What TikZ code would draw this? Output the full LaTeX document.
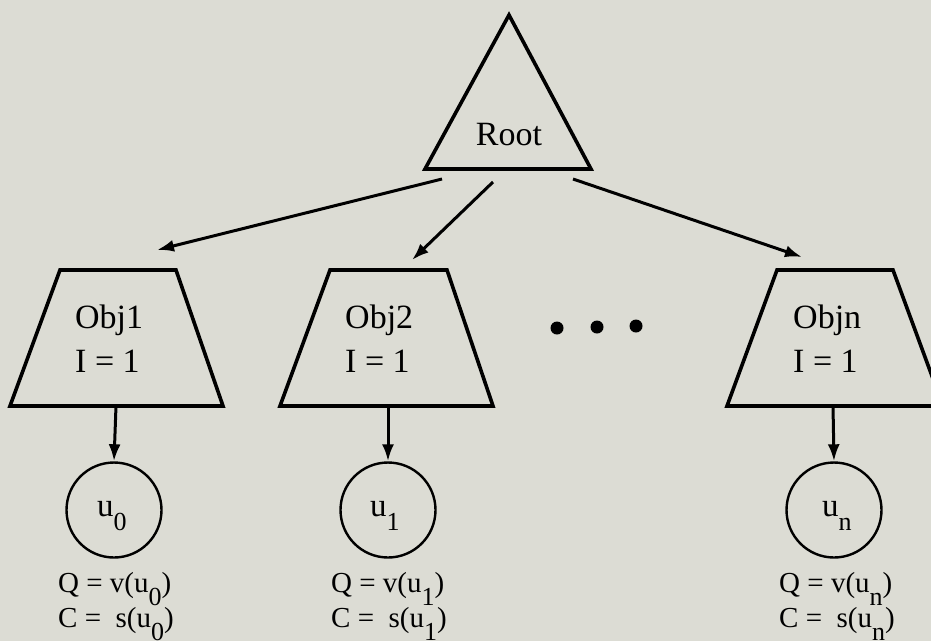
\documentclass[tikz,border=0pt]{standalone}
\usepackage{fontspec}
\setmainfont{Liberation Serif}
\usetikzlibrary{arrows.meta}
\definecolor{bgc}{RGB}{220,220,212}
\newcommand{\dnsub}[2]{\raisebox{-#1}{\fontsize{26}{26}\selectfont #2}}
\begin{document}
\begin{tikzpicture}[x=1pt,y=-1pt,
  outline/.style={draw=black, line width=3.6pt, line join=miter},
  arr/.style={-{Latex[length=17pt,width=12pt]}, line width=3pt},
  circ/.style={draw=black, circle, line width=2.4pt, minimum size=95pt, inner sep=0pt},
  big/.style={font=\fontsize{34}{40}\selectfont, inner sep=0pt, anchor=base west},
  cu/.style={font=\fontsize{33}{40}\selectfont, inner sep=0pt, anchor=base west},
  sm/.style={font=\fontsize{29}{35}\selectfont, inner sep=0pt, anchor=base west},
  dot/.style={circle, fill=black, minimum size=13pt, inner sep=0pt}]
\fill[bgc] (0,0) rectangle (931,641);
\useasboundingbox (0,0) rectangle (931,641);

% Root triangle
\draw[outline] (509,15) -- (591,169) -- (425,169) -- cycle;
\node[big, anchor=base] (root) at (509,145) {Root};

% Object trapezoids
\draw[outline] (60,270) -- (176,270) -- (223,406) -- (10,406) -- cycle;
\node[big] (obj1) at (75,328) {Obj1};
\node[big] (obj1i) at (75,372) {I = 1};

\draw[outline] (330,270) -- (447,270) -- (493,406) -- (280,406) -- cycle;
\node[big] (obj2) at (345,328) {Obj2};
\node[big] (obj2i) at (345,372) {I = 1};

\draw[outline] (777,270) -- (893,270) -- (943,406) -- (727,406) -- cycle;
\node[big] (objn) at (793,328) {Objn};
\node[big] (objni) at (793,372) {I = 1};

% dots
\node[dot] (d1) at (557,328) {};
\node[dot] (d2) at (597,327) {};
\node[dot] (d3) at (636,326) {};

% arrows from root
\coordinate (r1) at (442,179);
\coordinate (r2) at (493,182);
\coordinate (r3) at (573,179);
\coordinate (t1) at (157,250);
\coordinate (t2) at (412,260);
\coordinate (t3) at (802,257);
\draw[arr] (r1) -- (t1);
\draw[arr] (r2) -- (t2);
\draw[arr] (r3) -- (t3);

% circles
\node[circ] (u0) at (114,510) {};
\node[circ] (u1) at (388,510) {};
\node[circ] (un) at (834,510) {};
\node[cu] (u0t) at (97,516) {u\dnsub{14pt}{0}};
\node[cu] (u1t) at (370,516) {u\dnsub{14pt}{1}};
\node[cu] (unt) at (822,516) {u\dnsub{14pt}{n}};

\coordinate (b1) at (116,406);
\coordinate (b2) at (388,406);
\coordinate (bn) at (833,406);
\draw[arr] (b1) -- (u0.north);
\draw[arr] (b2) -- (u1.north);
\draw[arr] (bn) -- (un.north);

% labels
\node[sm] (q0) at (58,592) {Q = v(u\dnsub{13pt}{0})};
\node[sm] (c0) at (58,627) {C = \ s(u\dnsub{13pt}{0})};
\node[sm] (q1) at (331,592) {Q = v(u\dnsub{13pt}{1})};
\node[sm] (c1) at (331,627) {C = \ s(u\dnsub{13pt}{1})};
\node[sm] (qn) at (779,592) {Q = v(u\dnsub{13pt}{n})};
\node[sm] (cn) at (779,627) {C = \ s(u\dnsub{13pt}{n})};
\end{tikzpicture}
\end{document}
